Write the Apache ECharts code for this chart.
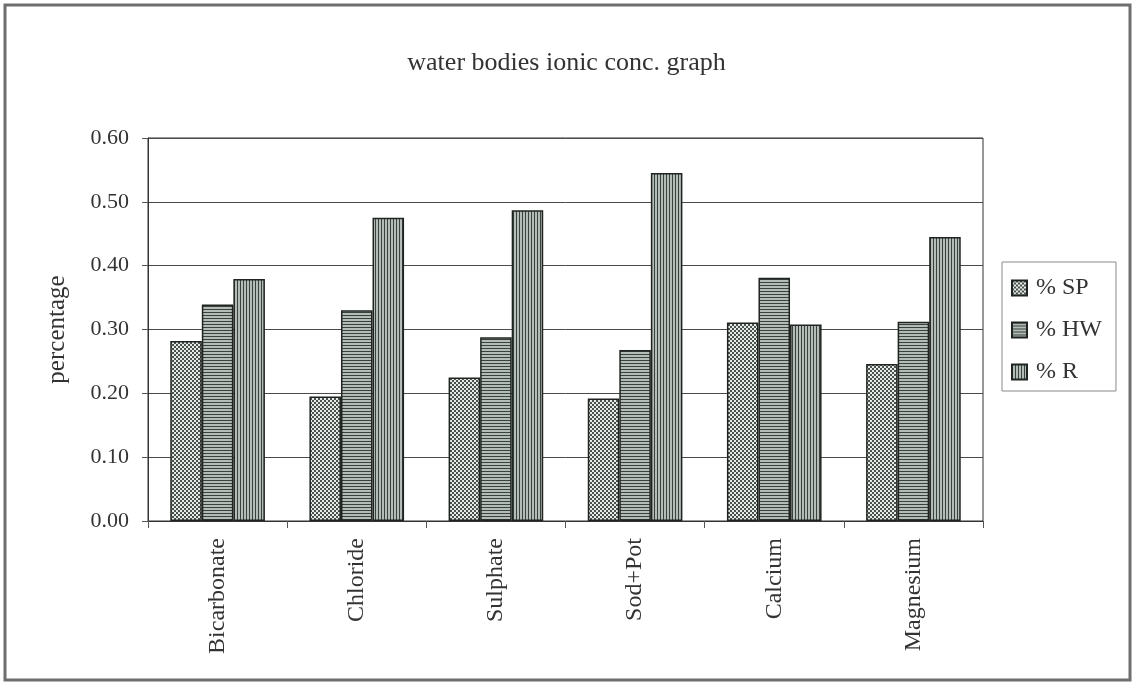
<!DOCTYPE html>
<html>
<head>
<meta charset="utf-8">
<title>water bodies ionic conc. graph</title>
<script src="https://cdn.jsdelivr.net/npm/echarts@6/dist/echarts.min.js"></script>
<style>
  html, body { margin: 0; padding: 0; background: #ffffff; }
  #chart { width: 1133px; height: 683px; }
</style>
</head>
<body>
<div id="chart"></div>
<script>
// Ions measured in each water body
const categories = ['Bicarbonate', 'Chloride', 'Sulphate', 'Sod+Pot', 'Calcium', 'Magnesium'];
const seriesNames = ['% SP', '% HW', '% R'];
const spValues = [0.282, 0.195, 0.225, 0.192, 0.311, 0.246];
const hwValues = [0.339, 0.330, 0.288, 0.268, 0.381, 0.312];
const rValues  = [0.379, 0.475, 0.487, 0.545, 0.308, 0.445];
const yTicks = { min: 0, max: 0.6, step: 0.1 };

const SERIF = '"Liberation Serif", "Times New Roman", serif';
const INK = '#333333';

// Monochrome fill patterns for the three series
function makePattern(kind) {
  const c = document.createElement('canvas');
  const g = c.getContext('2d');
  if (kind === 'dots') {
    c.width = 4; c.height = 4;
    g.fillStyle = '#e6ebe8';
    g.fillRect(0, 0, 4, 4);
    g.fillStyle = '#4a524e';
    g.fillRect(0, 0, 2, 2);
    g.fillRect(2, 2, 2, 2);
  } else if (kind === 'hlines') {
    c.width = 3; c.height = 3;
    g.fillStyle = '#b3bcb7';
    g.fillRect(0, 0, 3, 3);
    g.fillStyle = '#3a423e';
    g.fillRect(0, 0, 3, 1);
  } else {
    c.width = 3; c.height = 3;
    g.fillStyle = '#b3bcb7';
    g.fillRect(0, 0, 3, 3);
    g.fillStyle = '#3a423e';
    g.fillRect(0, 0, 1, 3);
  }
  return { image: c, repeat: 'repeat' };
}

const fills = [makePattern('dots'), makePattern('hlines'), makePattern('vlines')];
const valueSets = [spValues, hwValues, rValues];

const chart = echarts.init(document.getElementById('chart'), null, { renderer: 'canvas' });

const option = {
  backgroundColor: '#ffffff',
  animation: false,
  title: {
    text: 'water bodies ionic conc. graph',
    left: 'center',
    top: 45,
    textStyle: { fontFamily: SERIF, fontSize: 26, fontWeight: 'normal', color: INK }
  },
  legend: {
    orient: 'vertical',
    left: 1002,
    top: 262,
    padding: [14, 14, 7, 9],
    itemGap: 18,
    itemWidth: 15,
    itemHeight: 15,
    icon: 'rect',
    borderColor: '#8a8a8a',
    borderWidth: 1,
    textStyle: { fontFamily: SERIF, fontSize: 24, color: INK, lineHeight: 24, padding: [0, 0, 0, 4] },
    data: seriesNames
  },
  grid: {
    left: 148,
    right: 150,
    top: 138,
    bottom: 162,
    show: true,
    borderColor: '#333333',
    borderWidth: 1,
    backgroundColor: 'transparent'
  },
  xAxis: {
    type: 'category',
    data: categories,
    axisLine: { lineStyle: { color: '#333333', width: 1 } },
    axisTick: { show: true, length: 7, lineStyle: { color: '#555555' } },
    axisLabel: {
      rotate: 90,
      margin: 17,
      padding: [14, 0, 0, 0],
      fontFamily: SERIF,
      fontSize: 24,
      color: INK
    }
  },
  yAxis: {
    type: 'value',
    min: yTicks.min,
    max: yTicks.max,
    interval: yTicks.step,
    name: 'percentage',
    nameLocation: 'middle',
    nameRotate: 90,
    nameGap: 78,
    nameTextStyle: { fontFamily: SERIF, fontSize: 25, color: INK },
    axisLine: { show: true, lineStyle: { color: '#333333', width: 1 } },
    axisTick: { show: true, length: 6, lineStyle: { color: '#555555' } },
    axisLabel: {
      margin: 19,
      fontFamily: SERIF,
      fontSize: 22,
      color: INK,
      formatter: v => v.toFixed(2)
    },
    splitLine: { lineStyle: { color: '#4a4a4a', width: 1 } }
  },
  series: seriesNames.map((name, i) => ({
    name: name,
    type: 'bar',
    data: valueSets[i],
    barGap: '0%',
    barCategoryGap: '32%',
    itemStyle: {
      color: fills[i],
      borderColor: '#1f2421',
      borderWidth: 1.5
    }
  })),
  graphic: [
    {
      type: 'rect',
      shape: { x: 5, y: 5, width: 1125, height: 675 },
      style: { fill: 'none', stroke: '#6e6e6e', lineWidth: 3 },
      silent: true,
      z: 100
    }
  ]
};

chart.setOption(option);
</script>
</body>
</html>
